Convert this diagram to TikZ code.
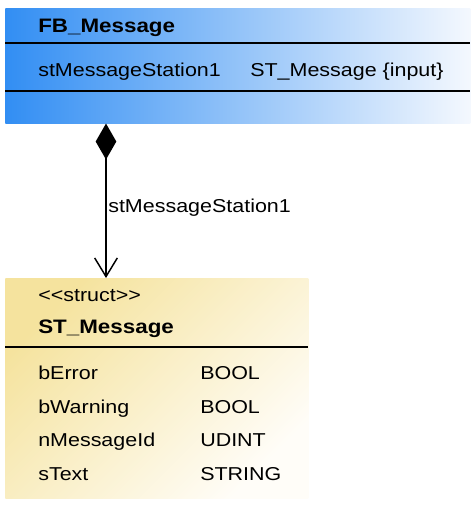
\documentclass[tikz,border=0pt]{standalone}
\usepackage{fontspec}
\setmainfont{Liberation Sans}[FakeStretch=1.15]
\usetikzlibrary{arrows.meta}
\definecolor{fbblue}{RGB}{50,142,243}
\definecolor{fbpale}{RGB}{244,248,254}
\definecolor{stgold}{RGB}{245,227,158}
\definecolor{stmid}{RGB}{250,238,196}
\definecolor{stpale}{RGB}{255,253,248}

\begin{document}
\begin{tikzpicture}[x=0.75pt,y=-0.75pt,
  txt/.style={anchor=base west,inner sep=0pt,font=\fontsize{14}{17}\selectfont},
  ttl/.style={anchor=base west,inner sep=0pt,font=\fontsize{14.6}{17}\selectfont\bfseries},
  divider/.style={line width=1.2pt},
  assoc/.style={line width=1.1pt,
    {Diamond[length=27pt,width=15.5pt]}-{Straight Barb[length=14pt,width=17pt]}}]
  \useasboundingbox (0,0) rectangle (471,509);

  % function block
  \node[anchor=north west,inner sep=0pt,minimum width=348.75pt,minimum height=86.25pt,
    left color=fbblue,right color=fbpale] (fb) at (5,8) {};
  \draw[divider] (5,43) -- (470,43);
  \draw[divider] (5,91) -- (470,91);
  \node[ttl] (fbname) at (38,33) {FB\_Message};
  \node[txt] (fbvar) at (38,77) {stMessageStation1};
  \node[txt] (fbtype) at (250,77) {ST\_Message \{input\}};

  % struct
  \node[anchor=north west,inner sep=0pt,minimum width=227.25pt,minimum height=165pt,
    top color=stgold,middle color=stmid,bottom color=stpale,shading angle=45] (st) at (5,278) {};
  \draw[divider] (5,347) -- (308,347);
  \node[txt] (ststereo) at (38,301) {<{}<struct>{}>};
  \node[ttl] (stname) at (38,333) {ST\_Message};
  \node[txt] (m1) at (38,379) {bError};
  \node[txt] (t1) at (200,379) {BOOL};
  \node[txt] (m2) at (38,413) {bWarning};
  \node[txt] (t2) at (200,413) {BOOL};
  \node[txt] (m3) at (38,446) {nMessageId};
  \node[txt] (t3) at (200,446) {UDINT};
  \node[txt] (m4) at (38,480) {sText};
  \node[txt] (t4) at (200,480) {STRING};

  % composition
  \coordinate (link) at (106,0);
  \draw[assoc] (fb.south -| link) -- (st.north -| link);
  \node[txt] (role) at (108,213) {stMessageStation1};
\end{tikzpicture}
\end{document}
